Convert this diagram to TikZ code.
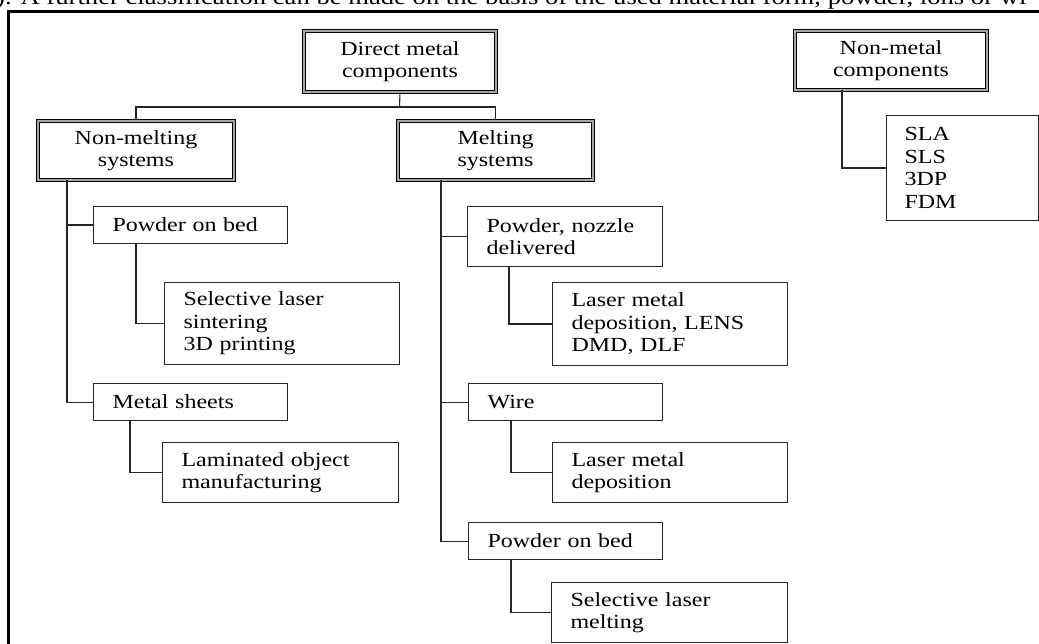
\documentclass[tikz,border=0pt]{standalone}
\usepackage{fontspec}
\setmainfont{Liberation Serif}[FakeStretch=1.2]
\usetikzlibrary{calc}
\begin{document}
\begin{tikzpicture}[x=1pt,y=-1pt,
  every node/.style={font=\fontsize{20}{22.5}\selectfont},
  headbox/.style={draw=black, double=black!35, double distance=1.4pt, line width=1pt,
    rectangle, anchor=north west, align=center, inner sep=1pt},
  leafbox/.style={draw=black!85, line width=1.1pt, rectangle, anchor=north west,
    align=left, inner xsep=19pt, inner ysep=0pt},
  conn/.style={draw=black!85, line width=1.1pt}]
\useasboundingbox (0,0) rectangle (1039,644);
\clip (0,0) rectangle (1039,644);
% cut-off caption line and frame
\node[anchor=base west, inner sep=0pt, font=\fontsize{22.2}{26}\selectfont] (cap) at (-4,5)
  {). A further classification can be made on the basis of the used material form, powder, ions or wi};
\coordinate (fbl) at (8.5,650);
\coordinate (ftl) at (8.5,11.5);
\coordinate (ftr) at (1045,11.5);
\draw[line width=2.6pt] (fbl) -- (ftl) -- (ftr);
% head boxes
\node[headbox, minimum width=192pt, minimum height=61pt] (dm) at (303.5,30.5) {Direct metal\\components};
\node[headbox, minimum width=192pt, minimum height=59pt] (nmc) at (794.5,30.5) {Non-metal\\components};
\node[headbox, minimum width=196pt, minimum height=59pt] (nm) at (37.5,120.5) {Non-melting\\systems};
\node[headbox, minimum width=195pt, minimum height=59pt] (ms) at (397.5,120.5) {Melting\\systems};
% leaves
\node[leafbox, text width=156pt, minimum height=37pt] (pb1) at (93,206) {Powder on bed};
\node[leafbox, text width=197pt, minimum height=82pt] (sls) at (164,282) {Selective laser\\sintering\\3D printing};
\node[leafbox, text width=156pt, minimum height=37pt] (msh) at (93,383) {Metal sheets};
\node[leafbox, text width=198pt, minimum height=60pt] (lom) at (162,442) {Laminated object\\manufacturing};
\node[leafbox, text width=157pt, minimum height=60pt] (pnd) at (467,206) {Powder, nozzle\\delivered};
\node[leafbox, text width=197pt, minimum height=83pt] (lmd1) at (552,282) {Laser metal\\deposition, LENS\\DMD, DLF};
\node[leafbox, text width=156pt, minimum height=37pt] (wire) at (468,383) {Wire};
\node[leafbox, text width=197pt, minimum height=60pt] (lmd2) at (552,442) {Laser metal\\deposition};
\node[leafbox, text width=156pt, minimum height=37pt] (pb2) at (468,522) {Powder on bed};
\node[leafbox, text width=198pt, minimum height=60pt] (slm) at (551,582) {Selective laser\\melting};
\node[leafbox, inner xsep=18pt, text width=116pt, minimum height=105pt] (sla) at (886,115) {SLA\\SLS\\3DP\\FDM};
% connectors
\coordinate (j1) at (399.5,107);
\draw[conn] (dm.south) -- (j1);
\draw[conn] (nm.north) |- (j1) -| (ms.north);
\coordinate (nmx) at ($(nm.south west)+(29.5,0)$);
\draw[conn] (nmx) |- (pb1.west);
\draw[conn] (nmx) |- (msh.west);
\draw[conn] ($(pb1.south west)+(43,0)$) |- (sls.west);
\draw[conn] ($(msh.south west)+(37,0)$) |- (lom.west);
\coordinate (msx) at ($(ms.south west)+(43.5,0)$);
\draw[conn] (msx) |- (pnd.west);
\draw[conn] (msx) |- (wire.west);
\draw[conn] (msx) |- (pb2.west);
\draw[conn] ($(pnd.south west)+(42,0)$) |- (lmd1.west);
\draw[conn] ($(wire.south west)+(43,0)$) |- (lmd2.west);
\draw[conn] ($(pb2.south west)+(43,0)$) |- (slm.west);
\draw[conn] ($(nmc.south west)+(47.5,0)$) |- (sla.west);
\end{tikzpicture}
\end{document}
